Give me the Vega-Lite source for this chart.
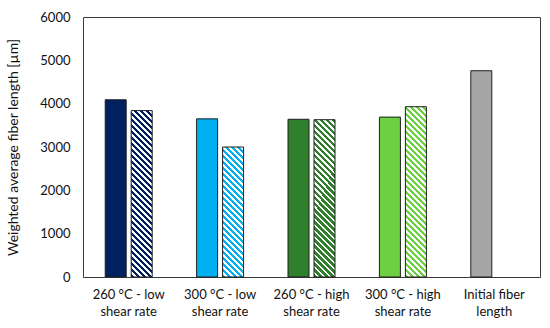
{
  "$schema": "https://vega.github.io/schema/vega-lite/v6.json",
  "width": 457,
  "height": 260,
  "autosize": {"type": "none"},
  "padding": {"left": 83, "top": 17, "right": 10, "bottom": 51},
  "background": "white",
  "config": {"view": {"stroke": "#3a3a3a", "strokeWidth": 1}, "font": "Lato"},
  "data": {"values": [
    {"condition": "260 °C - low shear rate", "type": "solid", "length": 4090},
    {"condition": "260 °C - low shear rate", "type": "hatched", "length": 3840},
    {"condition": "300 °C - low shear rate", "type": "solid", "length": 3650},
    {"condition": "300 °C - low shear rate", "type": "hatched", "length": 3000},
    {"condition": "260 °C - high shear rate", "type": "solid", "length": 3640},
    {"condition": "260 °C - high shear rate", "type": "hatched", "length": 3630},
    {"condition": "300 °C - high shear rate", "type": "solid", "length": 3690},
    {"condition": "300 °C - high shear rate", "type": "hatched", "length": 3930},
    {"condition": "Initial fiber length", "type": "solid", "length": 4760}
  ]},
  "encoding": {
    "x": {
      "field": "condition", "type": "nominal", "sort": null,
      "scale": {"paddingInner": 0.486, "paddingOuter": 0.243},
      "axis": {
        "title": null, "domain": false, "ticks": false, "labelAngle": 0,
        "labelFont": "Lato", "labelFontSize": 13, "labelColor": "#111111",
        "labelPadding": 11, "labelLineHeight": 17.5,
        "labelExpr": "datum.label == 'Initial fiber length' ? ['Initial fiber', 'length'] : [replace(datum.label, ' shear rate', ''), 'shear rate']"
      }
    },
    "xOffset": {
      "field": "type", "type": "nominal",
      "scale": {"domain": ["solid", "hatched"], "paddingInner": 0.192, "paddingOuter": 0}
    },
    "y": {
      "field": "length", "type": "quantitative",
      "scale": {"domain": [0, 6000]},
      "axis": {
        "title": "Weighted average fiber length [µm]",
        "values": [0, 1000, 2000, 3000, 4000, 5000, 6000], "format": "d",
        "grid": false, "domain": false, "ticks": false,
        "labelFont": "Lato", "labelFontSize": 13, "labelColor": "#111111", "labelPadding": 13,
        "titleFont": "Lato", "titleFontSize": 14, "titleFontWeight": "normal", "titleColor": "#111111", "titlePadding": 19
      }
    }
  },
  "layer": [
    {
      "transform": [{"filter": "datum.type === 'solid'"}],
      "mark": {"type": "bar", "stroke": "#1e1e1e", "strokeWidth": 1},
      "encoding": {
        "color": {
          "field": "condition", "type": "nominal", "legend": null,
          "scale": {
            "domain": ["260 °C - low shear rate", "300 °C - low shear rate", "260 °C - high shear rate", "300 °C - high shear rate", "Initial fiber length"],
            "range": ["#002060", "#00B0F0", "#2F7F2C", "#6DCF42", "#A6A6A6"]
          }
        }
      }
    },
    {
      "transform": [{"filter": "datum.type === 'hatched' && datum.condition === '260 °C - low shear rate'"}],
      "mark": {"type": "bar", "stroke": "#1e1e1e", "strokeWidth": 1, "fill": {"gradient": "linear", "x1": 0, "y1": 1, "x2": 0.1493, "y2": -0.183, "stops": [
        {"offset":0,"color":"#002060"},{"offset":0.0165,"color":"#002060"},{"offset":0.0165,"color":"#ffffff"},{"offset":0.03,"color":"#ffffff"},
        {"offset":0.03,"color":"#002060"},{"offset":0.0465,"color":"#002060"},{"offset":0.0465,"color":"#ffffff"},{"offset":0.06,"color":"#ffffff"},
        {"offset":0.06,"color":"#002060"},{"offset":0.0765,"color":"#002060"},{"offset":0.0765,"color":"#ffffff"},{"offset":0.09,"color":"#ffffff"},
        {"offset":0.09,"color":"#002060"},{"offset":0.1065,"color":"#002060"},{"offset":0.1065,"color":"#ffffff"},{"offset":0.12,"color":"#ffffff"},
        {"offset":0.12,"color":"#002060"},{"offset":0.1365,"color":"#002060"},{"offset":0.1365,"color":"#ffffff"},{"offset":0.15,"color":"#ffffff"},
        {"offset":0.15,"color":"#002060"},{"offset":0.1665,"color":"#002060"},{"offset":0.1665,"color":"#ffffff"},{"offset":0.18,"color":"#ffffff"},
        {"offset":0.18,"color":"#002060"},{"offset":0.1965,"color":"#002060"},{"offset":0.1965,"color":"#ffffff"},{"offset":0.21,"color":"#ffffff"},
        {"offset":0.21,"color":"#002060"},{"offset":0.2265,"color":"#002060"},{"offset":0.2265,"color":"#ffffff"},{"offset":0.24,"color":"#ffffff"},
        {"offset":0.24,"color":"#002060"},{"offset":0.2565,"color":"#002060"},{"offset":0.2565,"color":"#ffffff"},{"offset":0.27,"color":"#ffffff"},
        {"offset":0.27,"color":"#002060"},{"offset":0.2865,"color":"#002060"},{"offset":0.2865,"color":"#ffffff"},{"offset":0.30,"color":"#ffffff"},
        {"offset":0.30,"color":"#002060"},{"offset":0.3165,"color":"#002060"},{"offset":0.3165,"color":"#ffffff"},{"offset":0.33,"color":"#ffffff"},
        {"offset":0.33,"color":"#002060"},{"offset":0.3465,"color":"#002060"},{"offset":0.3465,"color":"#ffffff"},{"offset":0.36,"color":"#ffffff"},
        {"offset":0.36,"color":"#002060"},{"offset":0.3765,"color":"#002060"},{"offset":0.3765,"color":"#ffffff"},{"offset":0.39,"color":"#ffffff"},
        {"offset":0.39,"color":"#002060"},{"offset":0.4065,"color":"#002060"},{"offset":0.4065,"color":"#ffffff"},{"offset":0.42,"color":"#ffffff"},
        {"offset":0.42,"color":"#002060"},{"offset":0.4365,"color":"#002060"},{"offset":0.4365,"color":"#ffffff"},{"offset":0.45,"color":"#ffffff"},
        {"offset":0.45,"color":"#002060"},{"offset":0.4665,"color":"#002060"},{"offset":0.4665,"color":"#ffffff"},{"offset":0.48,"color":"#ffffff"},
        {"offset":0.48,"color":"#002060"},{"offset":0.4965,"color":"#002060"},{"offset":0.4965,"color":"#ffffff"},{"offset":0.51,"color":"#ffffff"},
        {"offset":0.51,"color":"#002060"},{"offset":0.5265,"color":"#002060"},{"offset":0.5265,"color":"#ffffff"},{"offset":0.54,"color":"#ffffff"},
        {"offset":0.54,"color":"#002060"},{"offset":0.5565,"color":"#002060"},{"offset":0.5565,"color":"#ffffff"},{"offset":0.57,"color":"#ffffff"},
        {"offset":0.57,"color":"#002060"},{"offset":0.5865,"color":"#002060"},{"offset":0.5865,"color":"#ffffff"},{"offset":0.60,"color":"#ffffff"},
        {"offset":0.60,"color":"#002060"},{"offset":0.6165,"color":"#002060"},{"offset":0.6165,"color":"#ffffff"},{"offset":0.63,"color":"#ffffff"},
        {"offset":0.63,"color":"#002060"},{"offset":0.6465,"color":"#002060"},{"offset":0.6465,"color":"#ffffff"},{"offset":0.66,"color":"#ffffff"},
        {"offset":0.66,"color":"#002060"},{"offset":0.6765,"color":"#002060"},{"offset":0.6765,"color":"#ffffff"},{"offset":0.69,"color":"#ffffff"},
        {"offset":0.69,"color":"#002060"},{"offset":0.7065,"color":"#002060"},{"offset":0.7065,"color":"#ffffff"},{"offset":0.72,"color":"#ffffff"},
        {"offset":0.72,"color":"#002060"},{"offset":0.7365,"color":"#002060"},{"offset":0.7365,"color":"#ffffff"},{"offset":0.75,"color":"#ffffff"},
        {"offset":0.75,"color":"#002060"},{"offset":0.7665,"color":"#002060"},{"offset":0.7665,"color":"#ffffff"},{"offset":0.78,"color":"#ffffff"},
        {"offset":0.78,"color":"#002060"},{"offset":0.7965,"color":"#002060"},{"offset":0.7965,"color":"#ffffff"},{"offset":0.81,"color":"#ffffff"},
        {"offset":0.81,"color":"#002060"},{"offset":0.8265,"color":"#002060"},{"offset":0.8265,"color":"#ffffff"},{"offset":0.84,"color":"#ffffff"},
        {"offset":0.84,"color":"#002060"},{"offset":0.8565,"color":"#002060"},{"offset":0.8565,"color":"#ffffff"},{"offset":0.87,"color":"#ffffff"},
        {"offset":0.87,"color":"#002060"},{"offset":0.8865,"color":"#002060"},{"offset":0.8865,"color":"#ffffff"},{"offset":0.90,"color":"#ffffff"},
        {"offset":0.90,"color":"#002060"},{"offset":0.9165,"color":"#002060"},{"offset":0.9165,"color":"#ffffff"},{"offset":0.93,"color":"#ffffff"},
        {"offset":0.93,"color":"#002060"},{"offset":0.9465,"color":"#002060"},{"offset":0.9465,"color":"#ffffff"},{"offset":0.96,"color":"#ffffff"},
        {"offset":0.96,"color":"#002060"},{"offset":0.9765,"color":"#002060"},{"offset":0.9765,"color":"#ffffff"},{"offset":0.99,"color":"#ffffff"}
      ]}}
    },
    {
      "transform": [{"filter": "datum.type === 'hatched' && datum.condition === '300 °C - low shear rate'"}],
      "mark": {"type": "bar", "stroke": "#1e1e1e", "strokeWidth": 1, "fill": {"gradient": "linear", "x1": 0, "y1": 1, "x2": 0.2422, "y2": -0.4993, "stops": [
        {"offset":0,"color":"#00B0F0"},{"offset":0.0165,"color":"#00B0F0"},{"offset":0.0165,"color":"#ffffff"},{"offset":0.03,"color":"#ffffff"},
        {"offset":0.03,"color":"#00B0F0"},{"offset":0.0465,"color":"#00B0F0"},{"offset":0.0465,"color":"#ffffff"},{"offset":0.06,"color":"#ffffff"},
        {"offset":0.06,"color":"#00B0F0"},{"offset":0.0765,"color":"#00B0F0"},{"offset":0.0765,"color":"#ffffff"},{"offset":0.09,"color":"#ffffff"},
        {"offset":0.09,"color":"#00B0F0"},{"offset":0.1065,"color":"#00B0F0"},{"offset":0.1065,"color":"#ffffff"},{"offset":0.12,"color":"#ffffff"},
        {"offset":0.12,"color":"#00B0F0"},{"offset":0.1365,"color":"#00B0F0"},{"offset":0.1365,"color":"#ffffff"},{"offset":0.15,"color":"#ffffff"},
        {"offset":0.15,"color":"#00B0F0"},{"offset":0.1665,"color":"#00B0F0"},{"offset":0.1665,"color":"#ffffff"},{"offset":0.18,"color":"#ffffff"},
        {"offset":0.18,"color":"#00B0F0"},{"offset":0.1965,"color":"#00B0F0"},{"offset":0.1965,"color":"#ffffff"},{"offset":0.21,"color":"#ffffff"},
        {"offset":0.21,"color":"#00B0F0"},{"offset":0.2265,"color":"#00B0F0"},{"offset":0.2265,"color":"#ffffff"},{"offset":0.24,"color":"#ffffff"},
        {"offset":0.24,"color":"#00B0F0"},{"offset":0.2565,"color":"#00B0F0"},{"offset":0.2565,"color":"#ffffff"},{"offset":0.27,"color":"#ffffff"},
        {"offset":0.27,"color":"#00B0F0"},{"offset":0.2865,"color":"#00B0F0"},{"offset":0.2865,"color":"#ffffff"},{"offset":0.30,"color":"#ffffff"},
        {"offset":0.30,"color":"#00B0F0"},{"offset":0.3165,"color":"#00B0F0"},{"offset":0.3165,"color":"#ffffff"},{"offset":0.33,"color":"#ffffff"},
        {"offset":0.33,"color":"#00B0F0"},{"offset":0.3465,"color":"#00B0F0"},{"offset":0.3465,"color":"#ffffff"},{"offset":0.36,"color":"#ffffff"},
        {"offset":0.36,"color":"#00B0F0"},{"offset":0.3765,"color":"#00B0F0"},{"offset":0.3765,"color":"#ffffff"},{"offset":0.39,"color":"#ffffff"},
        {"offset":0.39,"color":"#00B0F0"},{"offset":0.4065,"color":"#00B0F0"},{"offset":0.4065,"color":"#ffffff"},{"offset":0.42,"color":"#ffffff"},
        {"offset":0.42,"color":"#00B0F0"},{"offset":0.4365,"color":"#00B0F0"},{"offset":0.4365,"color":"#ffffff"},{"offset":0.45,"color":"#ffffff"},
        {"offset":0.45,"color":"#00B0F0"},{"offset":0.4665,"color":"#00B0F0"},{"offset":0.4665,"color":"#ffffff"},{"offset":0.48,"color":"#ffffff"},
        {"offset":0.48,"color":"#00B0F0"},{"offset":0.4965,"color":"#00B0F0"},{"offset":0.4965,"color":"#ffffff"},{"offset":0.51,"color":"#ffffff"},
        {"offset":0.51,"color":"#00B0F0"},{"offset":0.5265,"color":"#00B0F0"},{"offset":0.5265,"color":"#ffffff"},{"offset":0.54,"color":"#ffffff"},
        {"offset":0.54,"color":"#00B0F0"},{"offset":0.5565,"color":"#00B0F0"},{"offset":0.5565,"color":"#ffffff"},{"offset":0.57,"color":"#ffffff"},
        {"offset":0.57,"color":"#00B0F0"},{"offset":0.5865,"color":"#00B0F0"},{"offset":0.5865,"color":"#ffffff"},{"offset":0.60,"color":"#ffffff"},
        {"offset":0.60,"color":"#00B0F0"},{"offset":0.6165,"color":"#00B0F0"},{"offset":0.6165,"color":"#ffffff"},{"offset":0.63,"color":"#ffffff"},
        {"offset":0.63,"color":"#00B0F0"},{"offset":0.6465,"color":"#00B0F0"},{"offset":0.6465,"color":"#ffffff"},{"offset":0.66,"color":"#ffffff"},
        {"offset":0.66,"color":"#00B0F0"},{"offset":0.6765,"color":"#00B0F0"},{"offset":0.6765,"color":"#ffffff"},{"offset":0.69,"color":"#ffffff"},
        {"offset":0.69,"color":"#00B0F0"},{"offset":0.7065,"color":"#00B0F0"},{"offset":0.7065,"color":"#ffffff"},{"offset":0.72,"color":"#ffffff"},
        {"offset":0.72,"color":"#00B0F0"},{"offset":0.7365,"color":"#00B0F0"},{"offset":0.7365,"color":"#ffffff"},{"offset":0.75,"color":"#ffffff"},
        {"offset":0.75,"color":"#00B0F0"},{"offset":0.7665,"color":"#00B0F0"},{"offset":0.7665,"color":"#ffffff"},{"offset":0.78,"color":"#ffffff"},
        {"offset":0.78,"color":"#00B0F0"},{"offset":0.7965,"color":"#00B0F0"},{"offset":0.7965,"color":"#ffffff"},{"offset":0.81,"color":"#ffffff"}
      ]}}
    },
    {
      "transform": [{"filter": "datum.type === 'hatched' && datum.condition === '260 °C - high shear rate'"}],
      "mark": {"type": "bar", "stroke": "#1e1e1e", "strokeWidth": 1, "fill": {"gradient": "linear", "x1": 0, "y1": 1, "x2": 0.1668, "y2": -0.2493, "stops": [
        {"offset":0,"color":"#2F7F2C"},{"offset":0.0165,"color":"#2F7F2C"},{"offset":0.0165,"color":"#ffffff"},{"offset":0.03,"color":"#ffffff"},
        {"offset":0.03,"color":"#2F7F2C"},{"offset":0.0465,"color":"#2F7F2C"},{"offset":0.0465,"color":"#ffffff"},{"offset":0.06,"color":"#ffffff"},
        {"offset":0.06,"color":"#2F7F2C"},{"offset":0.0765,"color":"#2F7F2C"},{"offset":0.0765,"color":"#ffffff"},{"offset":0.09,"color":"#ffffff"},
        {"offset":0.09,"color":"#2F7F2C"},{"offset":0.1065,"color":"#2F7F2C"},{"offset":0.1065,"color":"#ffffff"},{"offset":0.12,"color":"#ffffff"},
        {"offset":0.12,"color":"#2F7F2C"},{"offset":0.1365,"color":"#2F7F2C"},{"offset":0.1365,"color":"#ffffff"},{"offset":0.15,"color":"#ffffff"},
        {"offset":0.15,"color":"#2F7F2C"},{"offset":0.1665,"color":"#2F7F2C"},{"offset":0.1665,"color":"#ffffff"},{"offset":0.18,"color":"#ffffff"},
        {"offset":0.18,"color":"#2F7F2C"},{"offset":0.1965,"color":"#2F7F2C"},{"offset":0.1965,"color":"#ffffff"},{"offset":0.21,"color":"#ffffff"},
        {"offset":0.21,"color":"#2F7F2C"},{"offset":0.2265,"color":"#2F7F2C"},{"offset":0.2265,"color":"#ffffff"},{"offset":0.24,"color":"#ffffff"},
        {"offset":0.24,"color":"#2F7F2C"},{"offset":0.2565,"color":"#2F7F2C"},{"offset":0.2565,"color":"#ffffff"},{"offset":0.27,"color":"#ffffff"},
        {"offset":0.27,"color":"#2F7F2C"},{"offset":0.2865,"color":"#2F7F2C"},{"offset":0.2865,"color":"#ffffff"},{"offset":0.30,"color":"#ffffff"},
        {"offset":0.30,"color":"#2F7F2C"},{"offset":0.3165,"color":"#2F7F2C"},{"offset":0.3165,"color":"#ffffff"},{"offset":0.33,"color":"#ffffff"},
        {"offset":0.33,"color":"#2F7F2C"},{"offset":0.3465,"color":"#2F7F2C"},{"offset":0.3465,"color":"#ffffff"},{"offset":0.36,"color":"#ffffff"},
        {"offset":0.36,"color":"#2F7F2C"},{"offset":0.3765,"color":"#2F7F2C"},{"offset":0.3765,"color":"#ffffff"},{"offset":0.39,"color":"#ffffff"},
        {"offset":0.39,"color":"#2F7F2C"},{"offset":0.4065,"color":"#2F7F2C"},{"offset":0.4065,"color":"#ffffff"},{"offset":0.42,"color":"#ffffff"},
        {"offset":0.42,"color":"#2F7F2C"},{"offset":0.4365,"color":"#2F7F2C"},{"offset":0.4365,"color":"#ffffff"},{"offset":0.45,"color":"#ffffff"},
        {"offset":0.45,"color":"#2F7F2C"},{"offset":0.4665,"color":"#2F7F2C"},{"offset":0.4665,"color":"#ffffff"},{"offset":0.48,"color":"#ffffff"},
        {"offset":0.48,"color":"#2F7F2C"},{"offset":0.4965,"color":"#2F7F2C"},{"offset":0.4965,"color":"#ffffff"},{"offset":0.51,"color":"#ffffff"},
        {"offset":0.51,"color":"#2F7F2C"},{"offset":0.5265,"color":"#2F7F2C"},{"offset":0.5265,"color":"#ffffff"},{"offset":0.54,"color":"#ffffff"},
        {"offset":0.54,"color":"#2F7F2C"},{"offset":0.5565,"color":"#2F7F2C"},{"offset":0.5565,"color":"#ffffff"},{"offset":0.57,"color":"#ffffff"},
        {"offset":0.57,"color":"#2F7F2C"},{"offset":0.5865,"color":"#2F7F2C"},{"offset":0.5865,"color":"#ffffff"},{"offset":0.60,"color":"#ffffff"},
        {"offset":0.60,"color":"#2F7F2C"},{"offset":0.6165,"color":"#2F7F2C"},{"offset":0.6165,"color":"#ffffff"},{"offset":0.63,"color":"#ffffff"},
        {"offset":0.63,"color":"#2F7F2C"},{"offset":0.6465,"color":"#2F7F2C"},{"offset":0.6465,"color":"#ffffff"},{"offset":0.66,"color":"#ffffff"},
        {"offset":0.66,"color":"#2F7F2C"},{"offset":0.6765,"color":"#2F7F2C"},{"offset":0.6765,"color":"#ffffff"},{"offset":0.69,"color":"#ffffff"},
        {"offset":0.69,"color":"#2F7F2C"},{"offset":0.7065,"color":"#2F7F2C"},{"offset":0.7065,"color":"#ffffff"},{"offset":0.72,"color":"#ffffff"},
        {"offset":0.72,"color":"#2F7F2C"},{"offset":0.7365,"color":"#2F7F2C"},{"offset":0.7365,"color":"#ffffff"},{"offset":0.75,"color":"#ffffff"},
        {"offset":0.75,"color":"#2F7F2C"},{"offset":0.7665,"color":"#2F7F2C"},{"offset":0.7665,"color":"#ffffff"},{"offset":0.78,"color":"#ffffff"},
        {"offset":0.78,"color":"#2F7F2C"},{"offset":0.7965,"color":"#2F7F2C"},{"offset":0.7965,"color":"#ffffff"},{"offset":0.81,"color":"#ffffff"},
        {"offset":0.81,"color":"#2F7F2C"},{"offset":0.8265,"color":"#2F7F2C"},{"offset":0.8265,"color":"#ffffff"},{"offset":0.84,"color":"#ffffff"},
        {"offset":0.84,"color":"#2F7F2C"},{"offset":0.8565,"color":"#2F7F2C"},{"offset":0.8565,"color":"#ffffff"},{"offset":0.87,"color":"#ffffff"},
        {"offset":0.87,"color":"#2F7F2C"},{"offset":0.8865,"color":"#2F7F2C"},{"offset":0.8865,"color":"#ffffff"},{"offset":0.90,"color":"#ffffff"},
        {"offset":0.90,"color":"#2F7F2C"},{"offset":0.9165,"color":"#2F7F2C"},{"offset":0.9165,"color":"#ffffff"},{"offset":0.93,"color":"#ffffff"}
      ]}}
    },
    {
      "transform": [{"filter": "datum.type === 'hatched' && datum.condition === '300 °C - high shear rate'"}],
      "mark": {"type": "bar", "stroke": "#1e1e1e", "strokeWidth": 1, "fill": {"gradient": "linear", "x1": 0, "y1": 1, "x2": 0.1426, "y2": -0.1568, "stops": [
        {"offset":0,"color":"#6DCF42"},{"offset":0.0165,"color":"#6DCF42"},{"offset":0.0165,"color":"#ffffff"},{"offset":0.03,"color":"#ffffff"},
        {"offset":0.03,"color":"#6DCF42"},{"offset":0.0465,"color":"#6DCF42"},{"offset":0.0465,"color":"#ffffff"},{"offset":0.06,"color":"#ffffff"},
        {"offset":0.06,"color":"#6DCF42"},{"offset":0.0765,"color":"#6DCF42"},{"offset":0.0765,"color":"#ffffff"},{"offset":0.09,"color":"#ffffff"},
        {"offset":0.09,"color":"#6DCF42"},{"offset":0.1065,"color":"#6DCF42"},{"offset":0.1065,"color":"#ffffff"},{"offset":0.12,"color":"#ffffff"},
        {"offset":0.12,"color":"#6DCF42"},{"offset":0.1365,"color":"#6DCF42"},{"offset":0.1365,"color":"#ffffff"},{"offset":0.15,"color":"#ffffff"},
        {"offset":0.15,"color":"#6DCF42"},{"offset":0.1665,"color":"#6DCF42"},{"offset":0.1665,"color":"#ffffff"},{"offset":0.18,"color":"#ffffff"},
        {"offset":0.18,"color":"#6DCF42"},{"offset":0.1965,"color":"#6DCF42"},{"offset":0.1965,"color":"#ffffff"},{"offset":0.21,"color":"#ffffff"},
        {"offset":0.21,"color":"#6DCF42"},{"offset":0.2265,"color":"#6DCF42"},{"offset":0.2265,"color":"#ffffff"},{"offset":0.24,"color":"#ffffff"},
        {"offset":0.24,"color":"#6DCF42"},{"offset":0.2565,"color":"#6DCF42"},{"offset":0.2565,"color":"#ffffff"},{"offset":0.27,"color":"#ffffff"},
        {"offset":0.27,"color":"#6DCF42"},{"offset":0.2865,"color":"#6DCF42"},{"offset":0.2865,"color":"#ffffff"},{"offset":0.30,"color":"#ffffff"},
        {"offset":0.30,"color":"#6DCF42"},{"offset":0.3165,"color":"#6DCF42"},{"offset":0.3165,"color":"#ffffff"},{"offset":0.33,"color":"#ffffff"},
        {"offset":0.33,"color":"#6DCF42"},{"offset":0.3465,"color":"#6DCF42"},{"offset":0.3465,"color":"#ffffff"},{"offset":0.36,"color":"#ffffff"},
        {"offset":0.36,"color":"#6DCF42"},{"offset":0.3765,"color":"#6DCF42"},{"offset":0.3765,"color":"#ffffff"},{"offset":0.39,"color":"#ffffff"},
        {"offset":0.39,"color":"#6DCF42"},{"offset":0.4065,"color":"#6DCF42"},{"offset":0.4065,"color":"#ffffff"},{"offset":0.42,"color":"#ffffff"},
        {"offset":0.42,"color":"#6DCF42"},{"offset":0.4365,"color":"#6DCF42"},{"offset":0.4365,"color":"#ffffff"},{"offset":0.45,"color":"#ffffff"},
        {"offset":0.45,"color":"#6DCF42"},{"offset":0.4665,"color":"#6DCF42"},{"offset":0.4665,"color":"#ffffff"},{"offset":0.48,"color":"#ffffff"},
        {"offset":0.48,"color":"#6DCF42"},{"offset":0.4965,"color":"#6DCF42"},{"offset":0.4965,"color":"#ffffff"},{"offset":0.51,"color":"#ffffff"},
        {"offset":0.51,"color":"#6DCF42"},{"offset":0.5265,"color":"#6DCF42"},{"offset":0.5265,"color":"#ffffff"},{"offset":0.54,"color":"#ffffff"},
        {"offset":0.54,"color":"#6DCF42"},{"offset":0.5565,"color":"#6DCF42"},{"offset":0.5565,"color":"#ffffff"},{"offset":0.57,"color":"#ffffff"},
        {"offset":0.57,"color":"#6DCF42"},{"offset":0.5865,"color":"#6DCF42"},{"offset":0.5865,"color":"#ffffff"},{"offset":0.60,"color":"#ffffff"},
        {"offset":0.60,"color":"#6DCF42"},{"offset":0.6165,"color":"#6DCF42"},{"offset":0.6165,"color":"#ffffff"},{"offset":0.63,"color":"#ffffff"},
        {"offset":0.63,"color":"#6DCF42"},{"offset":0.6465,"color":"#6DCF42"},{"offset":0.6465,"color":"#ffffff"},{"offset":0.66,"color":"#ffffff"},
        {"offset":0.66,"color":"#6DCF42"},{"offset":0.6765,"color":"#6DCF42"},{"offset":0.6765,"color":"#ffffff"},{"offset":0.69,"color":"#ffffff"},
        {"offset":0.69,"color":"#6DCF42"},{"offset":0.7065,"color":"#6DCF42"},{"offset":0.7065,"color":"#ffffff"},{"offset":0.72,"color":"#ffffff"},
        {"offset":0.72,"color":"#6DCF42"},{"offset":0.7365,"color":"#6DCF42"},{"offset":0.7365,"color":"#ffffff"},{"offset":0.75,"color":"#ffffff"},
        {"offset":0.75,"color":"#6DCF42"},{"offset":0.7665,"color":"#6DCF42"},{"offset":0.7665,"color":"#ffffff"},{"offset":0.78,"color":"#ffffff"},
        {"offset":0.78,"color":"#6DCF42"},{"offset":0.7965,"color":"#6DCF42"},{"offset":0.7965,"color":"#ffffff"},{"offset":0.81,"color":"#ffffff"},
        {"offset":0.81,"color":"#6DCF42"},{"offset":0.8265,"color":"#6DCF42"},{"offset":0.8265,"color":"#ffffff"},{"offset":0.84,"color":"#ffffff"},
        {"offset":0.84,"color":"#6DCF42"},{"offset":0.8565,"color":"#6DCF42"},{"offset":0.8565,"color":"#ffffff"},{"offset":0.87,"color":"#ffffff"},
        {"offset":0.87,"color":"#6DCF42"},{"offset":0.8865,"color":"#6DCF42"},{"offset":0.8865,"color":"#ffffff"},{"offset":0.90,"color":"#ffffff"},
        {"offset":0.90,"color":"#6DCF42"},{"offset":0.9165,"color":"#6DCF42"},{"offset":0.9165,"color":"#ffffff"},{"offset":0.93,"color":"#ffffff"},
        {"offset":0.93,"color":"#6DCF42"},{"offset":0.9465,"color":"#6DCF42"},{"offset":0.9465,"color":"#ffffff"},{"offset":0.96,"color":"#ffffff"},
        {"offset":0.96,"color":"#6DCF42"},{"offset":0.9765,"color":"#6DCF42"},{"offset":0.9765,"color":"#ffffff"},{"offset":0.99,"color":"#ffffff"}
      ]}}
    }
  ]
}
